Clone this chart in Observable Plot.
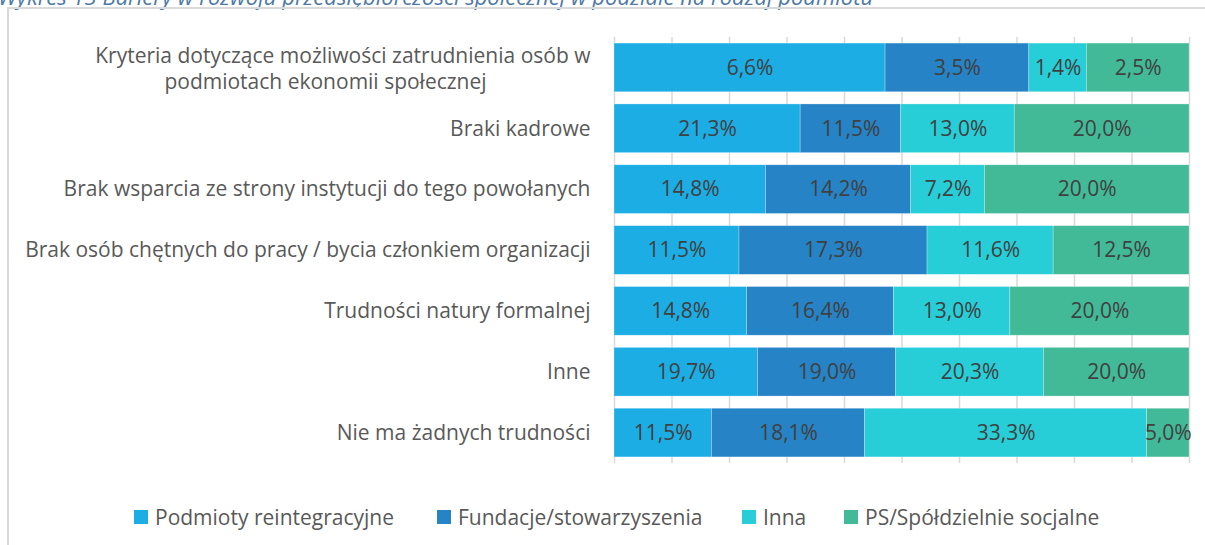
<!DOCTYPE html>
<html><head><meta charset="utf-8">
<script src="https://cdn.jsdelivr.net/npm/d3@7"></script>
<script src="https://cdn.jsdelivr.net/npm/@observablehq/plot@0.6"></script>
<style>
body{margin:0;background:#fff;width:1205px;height:545px;overflow:hidden;position:relative;font-family:"Open Sans",sans-serif}
#title{position:absolute;left:-2px;top:-15px;font-style:italic;font-size:22px;line-height:22px;color:#4f7aa6;white-space:nowrap}
#frame{position:absolute;left:7px;top:7px;width:1220px;height:560px;border:2px solid #d9d9d9;box-sizing:border-box}
#chart{position:absolute;left:0;top:0}
#legend{position:absolute;top:503px;left:0;width:1205px;height:28px;font-size:21px;color:#595959;white-space:nowrap}
#legend .item{position:absolute;top:0;display:flex;align-items:center;height:28px}
#legend .sw{width:14px;height:14px;margin-right:7px;display:inline-block}
</style>
</head><body>
<div id="title">Wykres 13 Bariery w rozwoju przedsiębiorczości społecznej w podziale na rodzaj podmiotu</div>
<div id="frame"></div>
<div id="chart"></div>
<div id="legend"></div>
<script>
const categories = [
  "Kryteria dotyczące możliwości zatrudnienia osób w\npodmiotach ekonomii społecznej",
  "Braki kadrowe",
  "Brak wsparcia ze strony instytucji do tego powołanych",
  "Brak osób chętnych do pracy / bycia członkiem organizacji",
  "Trudności natury formalnej",
  "Inne",
  "Nie ma żadnych trudności"
];
const series = ["Podmioty reintegracyjne", "Fundacje/stowarzyszenia", "Inna", "PS/Spółdzielnie socjalne"];
const colors = ["#1CADE4", "#2683C6", "#27CED7", "#42BA97"];
const podmiotyReintegracyjne = [6.6, 21.3, 14.8, 11.5, 14.8, 19.7, 11.5];
const fundacjeStowarzyszenia = [3.5, 11.5, 14.2, 17.3, 16.4, 19.0, 18.1];
const inna = [1.4, 13.0, 7.2, 11.6, 13.0, 20.3, 33.3];
const psSpoldzielnie = [2.5, 20.0, 20.0, 12.5, 20.0, 20.0, 5.0];
const seriesValues = [podmiotyReintegracyjne, fundacjeStowarzyszenia, inna, psSpoldzielnie];
const legendLeft = [134, 437, 742, 844];

const data = [];
series.forEach((s, si) => categories.forEach((c, ci) => data.push({cat: c, series: s, value: seriesValues[si][ci]})));

const fmt = v => v.toFixed(1).replace(".", ",") + "%";
const single = categories.slice(1);
const firstLines = categories[0].split("\n");
const labelFont = 21;

const chart = Plot.plot({
  width: 1205,
  height: 480,
  marginTop: 37,
  marginBottom: 17,
  marginLeft: 614,
  marginRight: 16,
  style: {fontFamily: "'Open Sans', sans-serif", background: "transparent"},
  x: {axis: null, domain: [0, 1]},
  y: {axis: null, domain: categories, paddingInner: 0.2, paddingOuter: 0.1, round: false},
  color: {domain: series, range: colors},
  marks: [
    Plot.gridX({ticks: d3.range(0, 1.0001, 0.1), stroke: "#d9d9d9", strokeOpacity: 1, strokeWidth: 1.5}),
    Plot.barX(data, Plot.stackX({offset: "normalize", x: "value", y: "cat", z: "series", fill: "series", stroke: "#ffffff", strokeWidth: 0.6, strokeOpacity: 0.45})),
    Plot.text(data, Plot.stackX({offset: "normalize", x: "value", y: "cat", z: "series", text: d => fmt(d.value), fill: "#404040", fontSize: 21})),
    Plot.text(single, {y: d => d, frameAnchor: "left", dx: -24, textAnchor: "end", fill: "#595959", fontSize: labelFont}),
    Plot.text([categories[0]], {y: d => d, frameAnchor: "left", dx: -24, dy: -12, textAnchor: "end", text: () => firstLines[0], fill: "#595959", fontSize: labelFont}),
    Plot.text([categories[0]], {y: d => d, frameAnchor: "left", dx: -289, dy: 14, textAnchor: "middle", text: () => firstLines[1], fill: "#595959", fontSize: labelFont})
  ]
});
document.getElementById("chart").appendChild(chart);

const legend = document.getElementById("legend");
series.forEach((s, i) => {
  const it = document.createElement("div");
  it.className = "item";
  it.style.left = legendLeft[i] + "px";
  it.innerHTML = `<span class="sw" style="background:${colors[i]}"></span><span>${s}</span>`;
  legend.appendChild(it);
});
</script>
</body></html>
